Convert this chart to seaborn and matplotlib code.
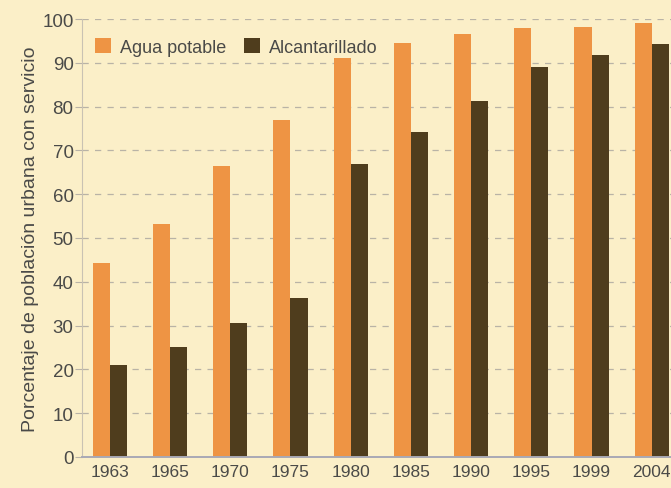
import matplotlib
matplotlib.use("Agg")
import matplotlib.pyplot as plt
import pandas as pd
import seaborn as sns

# Data
years = ["1963", "1965", "1970", "1975", "1980", "1985", "1990", "1995", "1999", "2004"]
agua_potable = [44.4, 53.1, 66.4, 76.9, 91.0, 94.5, 96.6, 97.9, 98.2, 99.2]
alcantarillado = [21.0, 25.0, 30.5, 36.3, 66.9, 74.2, 81.3, 89.0, 91.8, 94.3]
series_names = ["Agua potable", "Alcantarillado"]

df = pd.DataFrame({
    "Año": years * 2,
    "Valor": agua_potable + alcantarillado,
    "Serie": [series_names[0]] * len(years) + [series_names[1]] * len(years),
})

bg = "#FBEFC8"
text_color = "#4a4a48"
grid_color = "#b9b3a6"

sns.set_theme(style="white")
plt.rcParams["font.family"] = ["Liberation Sans", "DejaVu Sans"]

fig = plt.figure(figsize=(6.71, 4.89), dpi=100, facecolor=bg)
ax = fig.add_axes([0.122, 0.0634, 0.878, 0.8957])
ax.set_facecolor(bg)

sns.barplot(
    data=df, x="Año", y="Valor", hue="Serie",
    palette=["#EE9444", "#4F3D1D"], width=0.57, ax=ax,
    saturation=1, edgecolor="none",
)

ax.set_xlim(-0.465, 9.32)
ax.set_ylim(0, 100)
ax.set_yticks(range(0, 101, 10))

# Dashed horizontal grid behind the bars
ax.set_axisbelow(True)
ax.yaxis.grid(True, linestyle=(0, (5, 5)), color=grid_color, linewidth=0.9)
ax.xaxis.grid(False)

for side in ["top", "right"]:
    ax.spines[side].set_visible(False)
ax.spines["left"].set_color("#c9c2b3")
ax.spines["left"].set_linewidth(0.8)
ax.spines["bottom"].set_color("#a9a9b5")
ax.spines["bottom"].set_linewidth(1.4)

ax.tick_params(axis="y", length=5, width=0.8, color=grid_color, labelsize=13.5,
               labelcolor=text_color, pad=1, left=True)
ax.tick_params(axis="x", length=0, labelsize=12.5, labelcolor=text_color, pad=5)

ax.set_xlabel("")
ax.set_ylabel("Porcentaje de población urbana con servicio", fontsize=14,
              color=text_color, labelpad=2)

ax.legend(loc="upper left", bbox_to_anchor=(0.0, 0.985), ncol=2, frameon=False,
          fontsize=13, handlelength=0.9, handleheight=0.9, handletextpad=0.5,
          columnspacing=1.0, borderaxespad=0.3, labelcolor=text_color)

fig.savefig("out.png", dpi=100, facecolor=bg)
